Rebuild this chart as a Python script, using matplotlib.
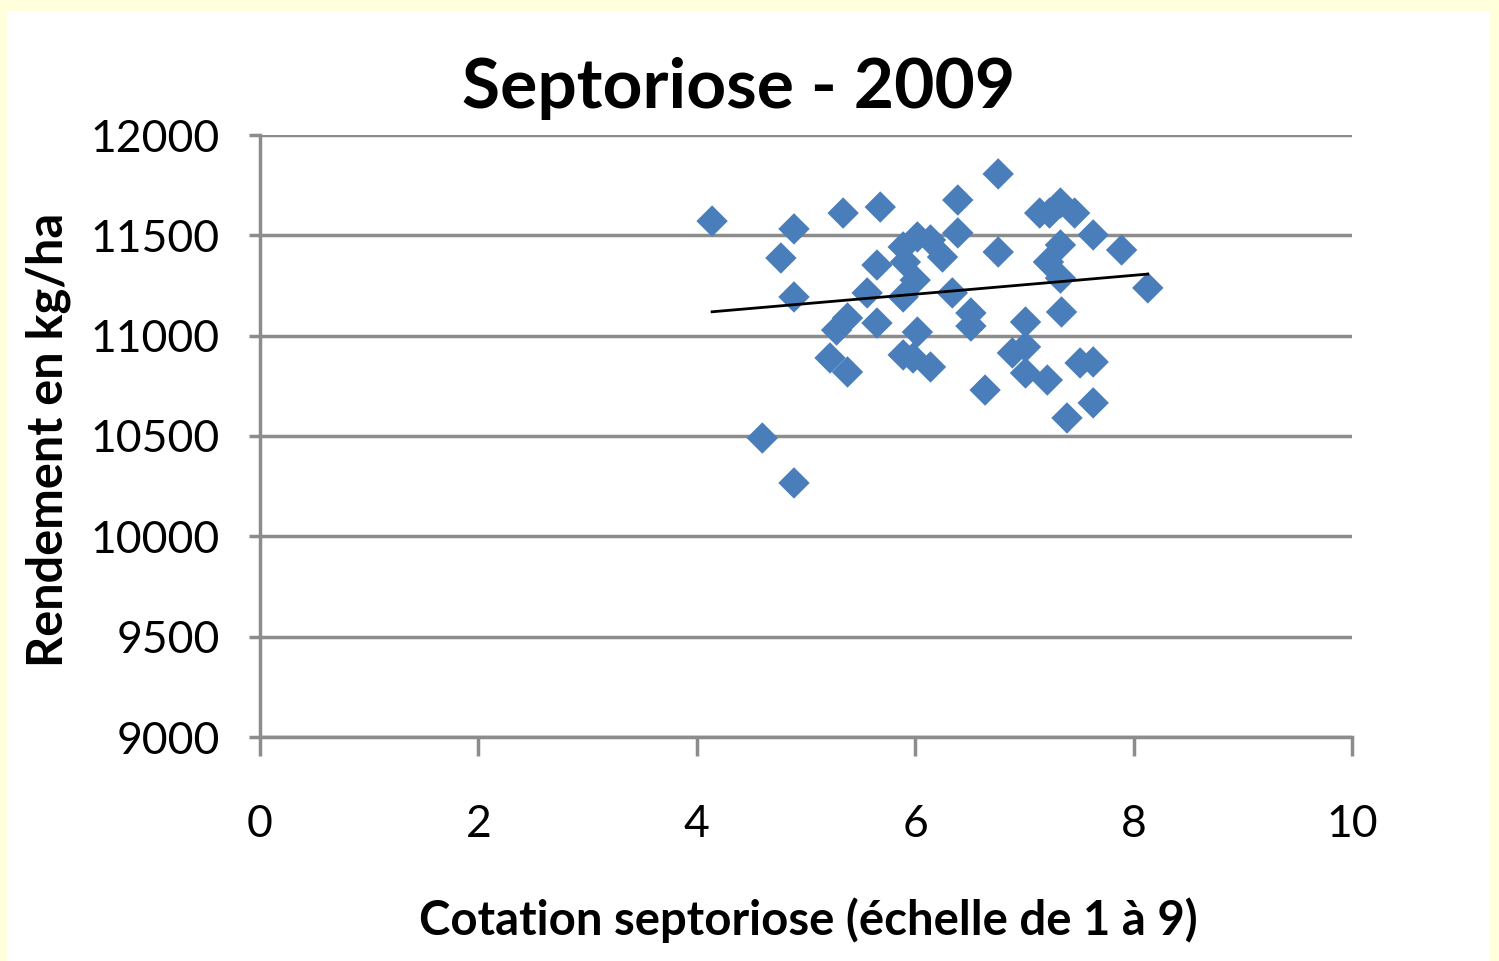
import matplotlib
matplotlib.use("Agg")
import matplotlib.pyplot as plt
from matplotlib.patches import Rectangle
import numpy as np

# Data
cotation = [4.14, 4.77, 4.89, 4.89, 4.60, 4.89, 5.34, 5.68, 6.02, 5.89, 6.14, 6.25,
            5.65, 6.00, 5.89, 5.56, 5.65, 5.28, 5.38, 6.02, 5.22, 5.38, 5.89, 5.98,
            6.14, 6.39, 6.39, 6.76, 6.76, 6.34, 6.51, 6.51, 6.64, 7.01, 6.89, 7.01,
            7.01, 7.21, 7.14, 7.23, 7.33, 7.46, 7.63, 7.89, 7.33, 7.22, 7.33, 7.34,
            8.13, 7.51, 7.63, 7.63, 7.39, 5.91]
rendement = [11571, 11387, 11532, 11193, 10490, 10266, 11611, 11641, 11492, 11442, 11477, 11392,
             11352, 11277, 11193, 11213, 11063, 11028, 11088, 11018, 10889, 10819, 10904, 10889,
             10844, 11676, 11512, 11806, 11417, 11213, 11113, 11048, 10729, 11068, 10914, 10944,
             10814, 10779, 11611, 11611, 11661, 11611, 11502, 11427, 11452, 11367, 11287, 11118,
             11238, 10864, 10869, 10665, 10590, 11367]
trend_slope = 47.1
trend_intercept = 10924

x_ticks = [0, 2, 4, 6, 8, 10]
y_ticks = [9000, 9500, 10000, 10500, 11000, 11500, 12000]

plt.rcParams['font.family'] = ['Lato', 'DejaVu Sans']

fig = plt.figure(figsize=(14.99, 9.61), dpi=100)
fig.patch.set_facecolor('#FFFFDC')
fig.patches.append(Rectangle((7/1499, 0), (1490-7)/1499, 1 - 11/961,
                             transform=fig.transFigure, facecolor='white',
                             edgecolor='none', zorder=-10))

ax = fig.add_axes([260/1499, 1-737/961, (1352-260)/1499, (737-135)/961])
ax.set_facecolor('white')

ax.scatter(cotation, rendement, marker='D', s=16**2, color='#4A7EBB',
           edgecolors='none', zorder=3)

tx = np.array([min(cotation), max(cotation)])
ax.plot(tx, trend_slope*tx + trend_intercept, color='black', lw=2, zorder=4)

ax.set_xlim(0, 10)
ax.set_ylim(9000, 12000)
ax.set_xticks(x_ticks)
ax.set_yticks(y_ticks)
ax.set_xticklabels([str(v) for v in x_ticks])
ax.set_yticklabels([str(v) for v in y_ticks])

ax.grid(axis='y', color='#8C8C8C', lw=2.5, zorder=1)
ax.set_axisbelow(True)
for s in ['top', 'right']:
    ax.spines[s].set_visible(False)
for s in ['left', 'bottom']:
    ax.spines[s].set_color('#8C8C8C')
    ax.spines[s].set_linewidth(2.5)

ax.tick_params(axis='x', direction='out', length=14, width=2.5, color='#8C8C8C',
               labelsize=32, pad=34)
ax.tick_params(axis='y', direction='out', length=8, width=2.5, color='#8C8C8C',
               labelsize=32, pad=21)

fig.text(739/1499, 1-89/961, 'Septoriose - 2009', fontsize=50, fontweight='bold',
         ha='center', va='center')
fig.text(808/1499, 1-920/961, 'Cotation septoriose (échelle de 1 à 9)', fontsize=34,
         fontweight='bold', ha='center', va='center')
fig.text(48/1499, 1-440/961, 'Rendement en kg/ha', fontsize=35, fontweight='bold',
         ha='center', va='center', rotation=90)

fig.savefig('out.png', dpi=100, facecolor=fig.get_facecolor())
